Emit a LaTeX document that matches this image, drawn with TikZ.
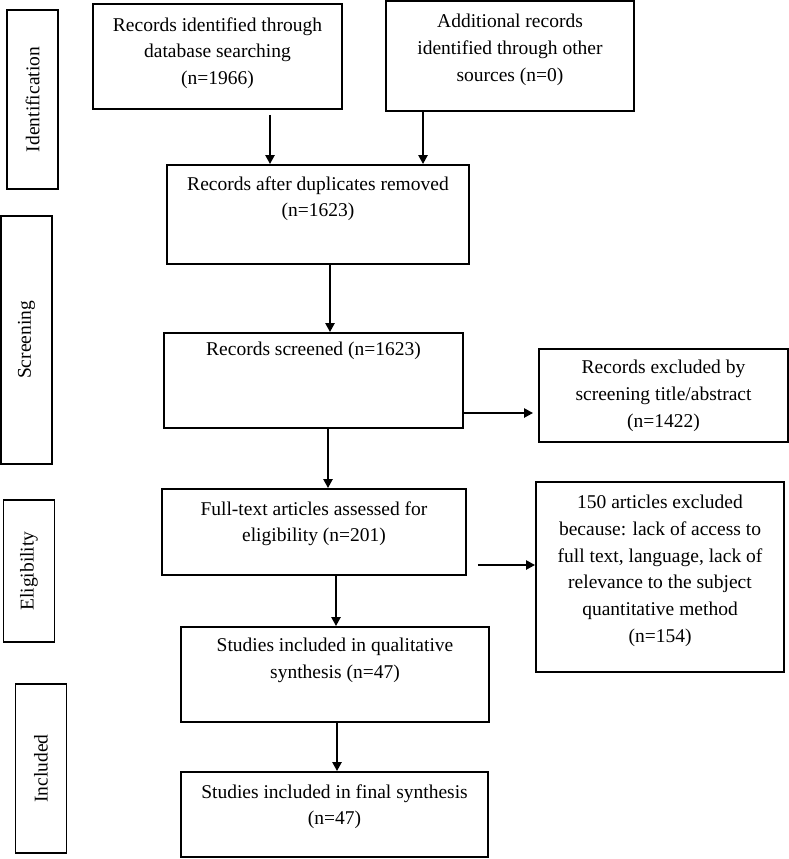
\documentclass[tikz,border=0pt]{standalone}
\usepackage{fontspec}
\setmainfont{Liberation Serif}
\usetikzlibrary{arrows.meta}
\tikzset{
  box/.style={draw=black, line width=1.8pt, rectangle, inner sep=0pt},
  txt/.style={inner sep=0pt, align=center, anchor=north, font=\fontsize{19.5}{26.7}\selectfont},
  side/.style={draw=black, line width=1.8pt, rectangle, inner sep=0pt, minimum width=51pt},
  sidetxt/.style={inner sep=0pt, rotate=90, font=\fontsize{19.5}{23}\selectfont},
  arr/.style={line width=2.4pt, -{Triangle[length=9pt,width=9pt]}}
}
\begin{document}
\begin{tikzpicture}[x=1pt,y=-1pt]
\useasboundingbox (0,0) rectangle (789,859);
% side labels
\node[side, minimum height=179pt] (sid) at (32.5,99.5) {};
\node[sidetxt] (sidt) at (sid.center) {Identification};
\node[side, minimum height=248pt] (sscr) at (26.5,340) {};
\node[sidetxt] (sscrt) at (sscr.center) {Screening};
\node[side, minimum height=142pt] (selig) at (29,571) {};
\node[sidetxt] (seligt) at (selig.center) {Eligibility};
\node[side, minimum height=169pt] (sinc) at (41,768.5) {};
\node[sidetxt] (sinct) at (sinc.center) {Included};
% boxes
\node[box, minimum width=249pt, minimum height=105pt] (a) at (217.5,56.5) {};
\node[txt] (at) at ([yshift=-14pt]a.north) {Records identified through\\database searching\\(n=1966)};
\node[box, minimum width=248pt, minimum height=110pt] (b) at (510,56) {};
\node[txt] (bt) at ([yshift=-14pt]b.north) {Additional records\\identified through other\\sources (n=0)};
\node[box, minimum width=302pt, minimum height=99pt] (c) at (318,214.5) {};
\node[txt] (ct) at ([yshift=-12pt]c.north) {Records after duplicates removed\\(n=1623)};
\node[box, minimum width=299pt, minimum height=95pt] (d) at (313.5,380.5) {};
\node[txt] (dt) at ([yshift=-10pt]d.north) {Records screened (n=1623)};
\node[box, minimum width=249pt, minimum height=93pt] (e) at (663.5,395.5) {};
\node[txt] (et) at ([yshift=-12pt]e.north) {Records excluded by\\screening title/abstract\\(n=1422)};
\node[box, minimum width=304pt, minimum height=86pt] (f) at (314,532) {};
\node[txt] (ft) at ([yshift=-13pt]f.north) {Full-text articles assessed for\\eligibility (n=201)};
\node[box, minimum width=308pt, minimum height=95pt] (g) at (335,674.5) {};
\node[txt] (gt) at ([yshift=-12pt]g.north) {Studies included in qualitative\\synthesis (n=47)};
\node[box, minimum width=248pt, minimum height=190pt] (h) at (660,577) {};
\node[txt] (ht) at ([yshift=-14pt]h.north) {150 articles excluded\\because: lack of access to\\full text, language, lack of\\relevance to the subject\\quantitative method\\(n=154)};
\node[box, minimum width=307pt, minimum height=85pt] (i) at (334.5,814.5) {};
\node[txt] (it) at ([yshift=-13pt]i.north) {Studies included in final synthesis\\(n=47)};
% connector positions
\coordinate (xa) at (270,0);
\coordinate (xb) at (423,0);
\coordinate (xc) at (330,0);
\coordinate (xd) at (328,0);
\coordinate (xf) at (336,0);
\coordinate (xg) at (337,0);
\coordinate (yd) at (0,413);
\coordinate (yf) at (0,565);
% connectors
\draw[arr, shorten <=5pt] (a.south -| xa) -- (c.north -| xa);
\draw[arr] (b.south -| xb) -- (c.north -| xb);
\draw[arr] (c.south -| xc) -- (d.north -| xc);
\draw[arr, shorten >=5pt] (d.east |- yd) -- (e.west |- yd);
\draw[arr] (d.south -| xd) -- (f.north -| xd);
\draw[arr] (f.south -| xf) -- (g.north -| xf);
\draw[arr, shorten <=11pt] (f.east |- yf) -- (h.west |- yf);
\draw[arr] (g.south -| xg) -- (i.north -| xg);
\end{tikzpicture}
\end{document}
